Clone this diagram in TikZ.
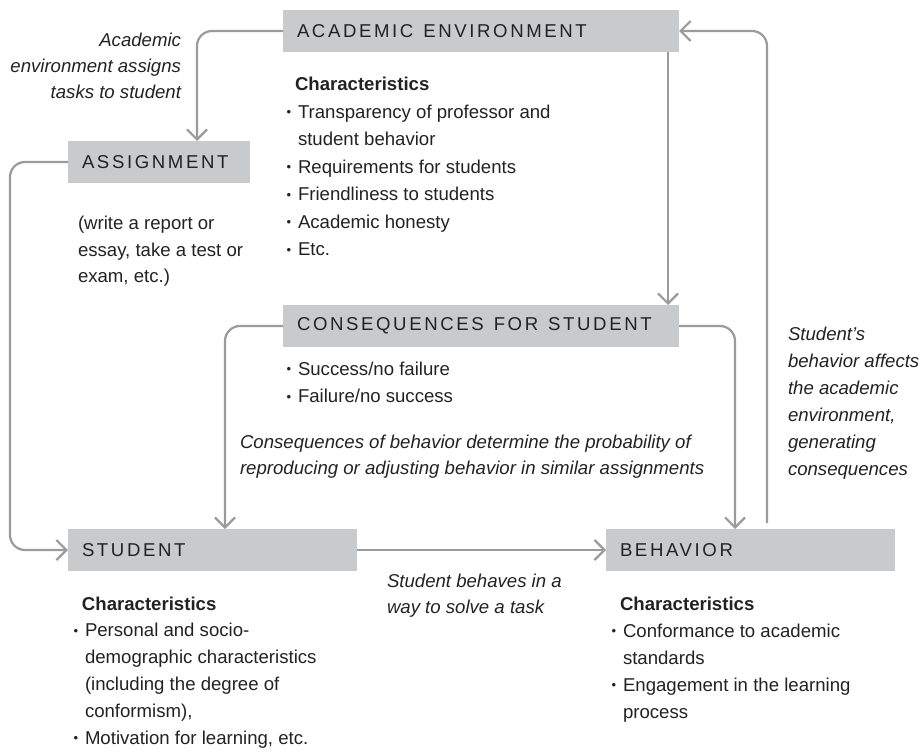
\documentclass[tikz,border=0pt]{standalone}
\usepackage{fontspec}
\setmainfont{Liberation Sans}
\newfontfamily\labelfont[LetterSpace=14]{Liberation Sans}
\usetikzlibrary{arrows.meta}
\definecolor{boxgray}{HTML}{C9CACC}
\definecolor{arrgray}{HTML}{9B9B9B}
\definecolor{txt}{HTML}{222222}
\newcommand\bul{\makebox[12pt][l]{\hspace{0.6pt}\raisebox{1.2pt}{\fontsize{13}{13}\selectfont •}}}
\newcommand\fl{\rule{0pt}{15pt}}
\newcommand\wsp{\hspace{10pt}}
\begin{document}
\begin{tikzpicture}[x=1pt,y=-1pt,
  every node/.style={inner sep=0pt, outer sep=0pt, text=txt},
  boxnode/.style={fill=boxgray, anchor=north west, minimum height=42pt, inner xsep=14pt, align=left, font=\labelfont\fontsize{18.6}{22}\selectfont},
  body/.style={anchor=north west, align=left, font=\fontsize{18.6}{27.5}\selectfont},
  conn/.style={draw=arrgray, line width=2.2pt, rounded corners=15pt, -{Straight Barb[length=10pt,width=20pt]}}
]
\useasboundingbox (0,0) rectangle (922,752);

% boxes
\node[boxnode, text width=368pt] (ae) at (283,10) {ACADEMIC\wsp ENVIRONMENT};
\node[boxnode, text width=154pt] (as) at (68,141) {ASSIGNMENT};
\node[boxnode, text width=368pt] (cs) at (283,305) {CONSEQUENCES\wsp FOR\wsp STUDENT};
\node[boxnode, text width=261pt] (st) at (68,529) {STUDENT};
\node[boxnode, text width=261pt] (be) at (606,529) {BEHAVIOR};

% connectors
\draw[conn] (ae.west) -| ([xshift=38pt]as.north);
\draw[conn] (as.west) -- ++(-58,0) |- (st.west);
\draw[conn] ([xshift=-11pt]ae.south east) -- ([xshift=-11pt]cs.north east);
\draw[conn] ([xshift=16.5pt,yshift=6pt]be.north) |- (ae.east);
\draw[conn] (cs.west) -| ([xshift=12.5pt]st.north);
\draw[conn] (cs.east) -| ([xshift=-15.5pt]be.north);
\draw[conn] (st.east) -- (be.west);

% notes
\node[anchor=north east, align=right, font=\itshape\fontsize{18.6}{26}\selectfont] (n1) at (181,31.7)
  {\fl Academic\\environment assigns\\tasks to student};
\node[body, font=\fontsize{18.6}{27.5}\selectfont] (aec) at (286,75.5)
  {\fl\hspace*{9pt}\textbf{Characteristics}\\
   \bul Transparency of professor and\\
   \hspace*{12pt}student behavior\\
   \bul Requirements for students\\
   \bul Friendliness to students\\
   \bul Academic honesty\\
   \bul Etc.};
\node[body, font=\fontsize{18.6}{26.7}\selectfont] (asn) at (78,214.5)
  {\fl(write a report or\\essay, take a test or\\exam, etc.)};
\node[body] (csb) at (286,360)
  {\fl\bul Success/no failure\\ \bul Failure/no success};
\node[body, font=\itshape\fontsize{18.6}{26.5}\selectfont] (n2) at (240,433)
  {\fl Consequences of behavior determine the probability of\\reproducing or adjusting behavior in similar assignments};
\node[body, font=\itshape\fontsize{18.6}{27}\selectfont] (n3) at (788,325)
  {\fl Student’s\\behavior affects\\the academic\\environment,\\generating\\consequences};
\node[body, font=\itshape\fontsize{18.6}{26.5}\selectfont] (n4) at (387,572)
  {\fl Student behaves in a\\way to solve a task};
\node[body, font=\fontsize{18.6}{26.8}\selectfont] (stc) at (73,595)
  {\fl\hspace*{9pt}\textbf{Characteristics}\\
   \bul Personal and socio-\\
   \hspace*{12pt}demographic characteristics\\
   \hspace*{12pt}(including the degree of\\
   \hspace*{12pt}conformism),\\
   \bul Motivation for learning, etc.};
\node[body, font=\fontsize{18.6}{27}\selectfont] (bec) at (611,595)
  {\fl\hspace*{9pt}\textbf{Characteristics}\\
   \bul Conformance to academic\\
   \hspace*{12pt}standards\\
   \bul Engagement in the learning\\
   \hspace*{12pt}process};
\end{tikzpicture}
\end{document}
